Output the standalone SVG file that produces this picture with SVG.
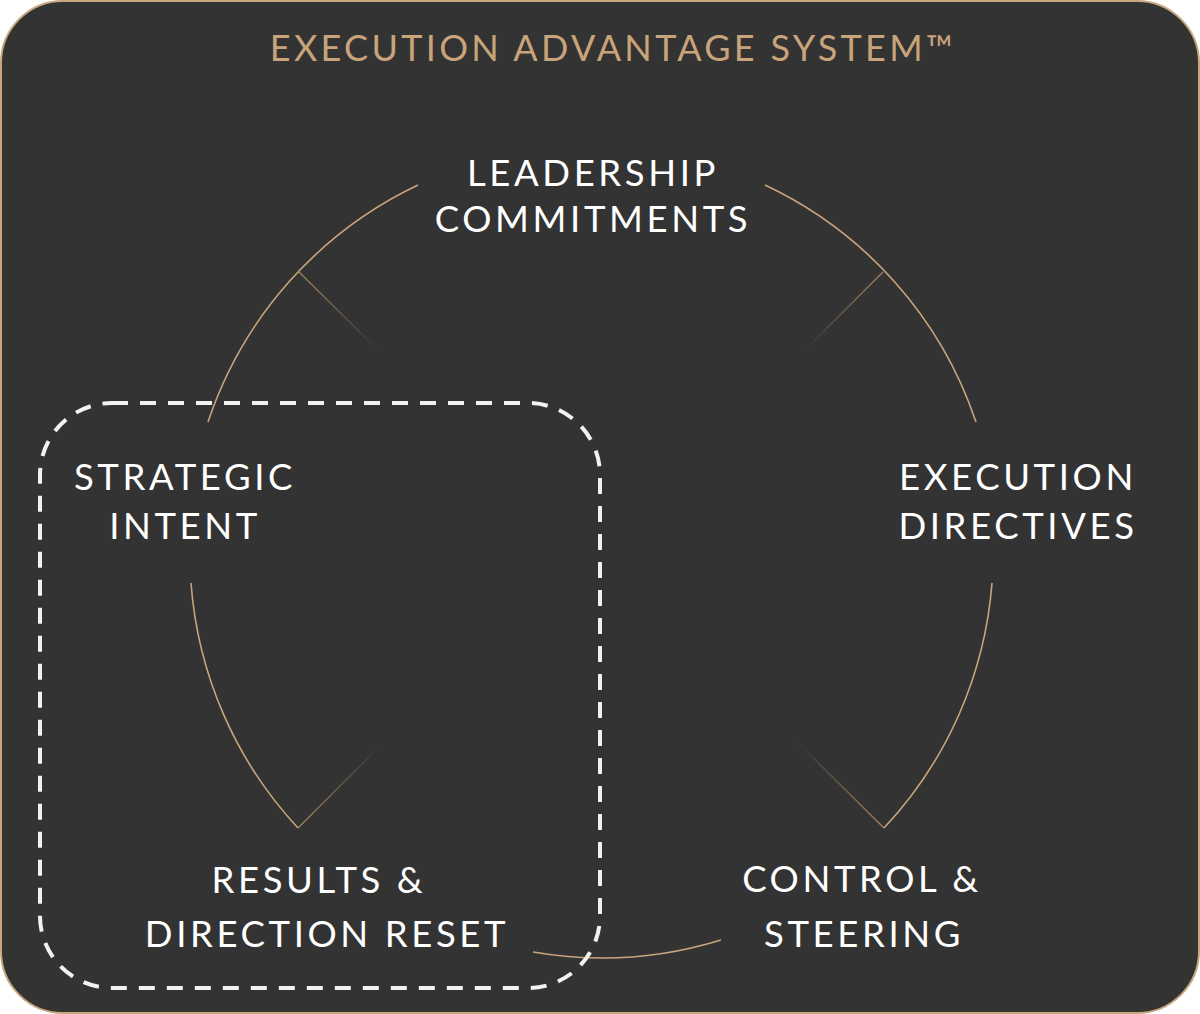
<svg xmlns="http://www.w3.org/2000/svg" width="1200" height="1014" viewBox="0 0 1200 1014">
<style>
.lbl{font-family:Lato,"Noto Sans","Liberation Sans",sans-serif;font-size:36.5px;fill:#ffffff;text-anchor:middle;letter-spacing:3.6px}
.title{font-family:Lato,"Noto Sans","Liberation Sans",sans-serif;font-size:36px;fill:#c9a47a;text-anchor:middle;letter-spacing:3.3px}
.arc{fill:none;stroke:#c9a57b;stroke-width:1.6}
.tick{stroke-width:1.3}
</style>
<defs>
<linearGradient id="t1" gradientUnits="userSpaceOnUse" x1="298" y1="271" x2="378" y2="350"><stop offset="0" stop-color="#a8865e"/><stop offset="1" stop-color="#333333"/></linearGradient>
<linearGradient id="t2" gradientUnits="userSpaceOnUse" x1="883" y1="272" x2="805" y2="350"><stop offset="0" stop-color="#a8865e"/><stop offset="1" stop-color="#333333"/></linearGradient>
<linearGradient id="t3" gradientUnits="userSpaceOnUse" x1="884" y1="828" x2="798" y2="743"><stop offset="0" stop-color="#a8865e"/><stop offset="1" stop-color="#333333"/></linearGradient>
<linearGradient id="t4" gradientUnits="userSpaceOnUse" x1="298" y1="828" x2="381" y2="745"><stop offset="0" stop-color="#a8865e"/><stop offset="1" stop-color="#333333"/></linearGradient>
</defs>
<rect x="0" y="0" width="1200" height="1014" fill="#ffffff"/>
<rect x="1" y="1" width="1198" height="1012" rx="62" ry="62" fill="#333333" stroke="#c9a67e" stroke-width="2"/>
<text class="title" x="613" y="61">EXECUTION ADVANTAGE SYSTEM™</text>
<g id="connectors">
<path class="arc" d="M208,422 A404,404 0 0 1 418,185"/>
<path class="arc" d="M765,185 A404,404 0 0 1 976,422"/>
<path class="arc" d="M992,583 A404,404 0 0 1 884,828"/>
<path class="arc" d="M721,940 A404,404 0 0 1 533,952"/>
<path class="arc" d="M298,828 A404,404 0 0 1 191,583"/>
<line class="tick" x1="298" y1="271" x2="378" y2="350" stroke="url(#t1)"/>
<line class="tick" x1="883" y1="272" x2="805" y2="350" stroke="url(#t2)"/>
<line class="tick" x1="884" y1="828" x2="798" y2="743" stroke="url(#t3)"/>
<line class="tick" x1="298" y1="828" x2="381" y2="745" stroke="url(#t4)"/>
</g>
<g id="highlight">
<rect x="40" y="403" width="560" height="585" rx="72" ry="72" fill="none" stroke="#f2f2f2" stroke-width="4" stroke-dasharray="16 12"/>
</g>
<g id="node-leadership"><text class="lbl" x="593" y="186">LEADERSHIP</text><text class="lbl" x="593" y="232">COMMITMENTS</text></g>
<g id="node-strategic"><text class="lbl" x="185" y="490">STRATEGIC</text><text class="lbl" x="185" y="539">INTENT</text></g>
<g id="node-execution"><text class="lbl" x="1018" y="490">EXECUTION</text><text class="lbl" x="1018" y="539">DIRECTIVES</text></g>
<g id="node-results"><text class="lbl" x="319" y="893">RESULTS &amp;</text><text class="lbl" x="327" y="947">DIRECTION RESET</text></g>
<g id="node-control"><text class="lbl" x="862" y="892">CONTROL &amp;</text><text class="lbl" x="864" y="947">STEERING</text></g>
</svg>
